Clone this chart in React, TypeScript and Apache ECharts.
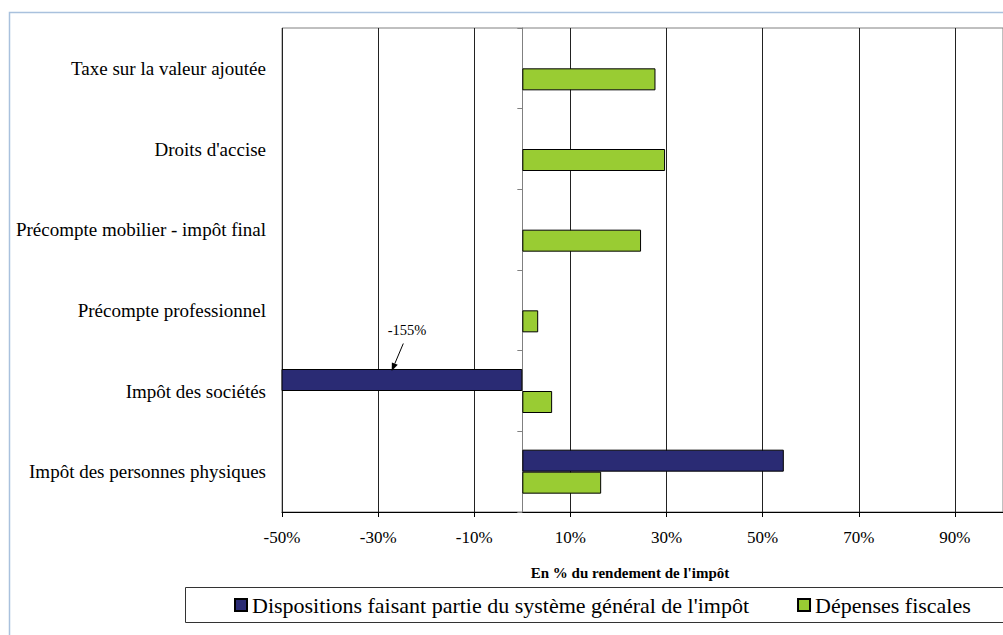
import React, { useEffect, useRef } from 'react';
import * as echarts from 'echarts';

const categories = [
  'Impôt des personnes physiques',
  'Impôt des sociétés',
  'Précompte professionnel',
  'Précompte mobilier - impôt final',
  "Droits d'accise",
  'Taxe sur la valeur ajoutée',
];
const dispositions: (number | null)[] = [54.4, -155, null, null, null, null];
const depenses: number[] = [16.4, 6.2, 3.3, 24.7, 29.7, 27.7];
const xTicks = [-50, -30, -10, 10, 30, 50, 70, 90];
const seriesNames = ["Dispositions faisant partie du système général de l'impôt", 'Dépenses fiscales'];
const axisTitle = "En % du rendement de l'impôt";
const annotationText = '-155%';

const FONT = '"Liberation Serif", "Times New Roman", serif';

export default function App() {
  const ref = useRef<HTMLDivElement>(null);
  useEffect(() => {
    if (!ref.current) return;
    const chart = echarts.init(ref.current, undefined, { renderer: 'svg' });

    const a0 = [403.3, 343.5];
    const a1 = [391.7, 371];
    const dx = a1[0] - a0[0];
    const dy = a1[1] - a0[1];
    const len = Math.sqrt(dx * dx + dy * dy);
    const ux = dx / len;
    const uy = dy / len;
    const hl = 8;
    const hw = 3.2;
    const bx = a1[0] - ux * hl;
    const by = a1[1] - uy * hl;

    chart.setOption({
      animation: false,
      textStyle: { fontFamily: FONT },
      grid: {
        left: 282,
        top: 28,
        width: 722.5,
        height: 484,
        show: true,
        borderColor: '#808080',
        borderWidth: 1,
        containLabel: false,
      },
      xAxis: {
        type: 'value',
        min: -50,
        max: 100,
        interval: 10,
        axisLine: { show: true, onZero: false, lineStyle: { color: '#000', width: 1 } },
        axisTick: { show: true, length: 5, lineStyle: { color: '#000' }, customValues: xTicks },
        axisLabel: {
          customValues: xTicks,
          formatter: (v: number) => v + '%',
          margin: 17,
          fontSize: 17,
          color: '#000',
          fontFamily: FONT,
        },
        splitLine: { show: true, lineStyle: { color: '#222', width: 1 } },
      },
      yAxis: [
        {
          type: 'category',
          data: categories,
          axisLine: { show: false, onZero: false },
          axisTick: { show: false },
          axisLabel: { margin: 16, fontSize: 19, color: '#000', fontFamily: FONT },
          splitLine: { show: false },
        },
        {
          type: 'category',
          data: categories,
          position: 'left',
          axisLine: { show: true, onZero: true, lineStyle: { color: '#808080', width: 1 } },
          axisTick: { show: true, length: 5, lineStyle: { color: '#808080' } },
          axisLabel: { show: false },
          splitLine: { show: false },
        },
      ],
      legend: {
        data: [seriesNames[0], seriesNames[1]],
        left: 234,
        top: 594,
        padding: 0,
        itemWidth: 12,
        itemHeight: 12,
        itemGap: 48,
        icon: 'rect',
        textStyle: { fontSize: 22, color: '#000', fontFamily: FONT },
      },
      series: [
        {
          name: seriesNames[0],
          type: 'bar',
          yAxisIndex: 0,
          data: dispositions,
          barWidth: 22,
          barGap: '0%',
          itemStyle: { color: '#2a2b74', borderColor: '#000', borderWidth: 1 },
        },
        {
          name: seriesNames[1],
          type: 'bar',
          yAxisIndex: 0,
          data: depenses,
          barWidth: 22,
          barGap: '0%',
          itemStyle: { color: '#99cc33', borderColor: '#000', borderWidth: 1 },
        },
      ],
      graphic: [
        {
          type: 'rect',
          silent: true,
          z: -10,
          shape: { x: 9.5, y: 12.5, width: 1100, height: 700 },
          style: { fill: 'none', stroke: '#a9c1dd', lineWidth: 1.5 },
        },
        {
          type: 'rect',
          silent: true,
          shape: { x: 185.5, y: 587.5, width: 900, height: 35 },
          style: { fill: 'none', stroke: '#333', lineWidth: 1 },
        },
        {
          type: 'text',
          silent: true,
          x: 630,
          y: 573,
          style: {
            text: axisTitle,
            font: 'bold 15px ' + FONT,
            fill: '#000',
            align: 'center',
            verticalAlign: 'middle',
          },
        },
        {
          type: 'text',
          silent: true,
          x: 407,
          y: 330,
          z: 20,
          style: {
            text: annotationText,
            font: '14.5px ' + FONT,
            fill: '#000',
            align: 'center',
            verticalAlign: 'middle',
          },
        },
        {
          type: 'line',
          silent: true,
          z: 20,
          shape: { x1: a0[0], y1: a0[1], x2: bx, y2: by },
          style: { stroke: '#000', lineWidth: 1 },
        },
        {
          type: 'polygon',
          silent: true,
          z: 20,
          shape: {
            points: [
              [a1[0], a1[1]],
              [bx - uy * hw, by + ux * hw],
              [bx + uy * hw, by - ux * hw],
            ],
          },
          style: { fill: '#000' },
        },
      ],
    });
    return () => chart.dispose();
  }, []);
  return (
    <div
      ref={ref}
      style={{ position: 'absolute', left: 0, top: 0, width: 1003, height: 635, background: '#fff' }}
    />
  );
}
